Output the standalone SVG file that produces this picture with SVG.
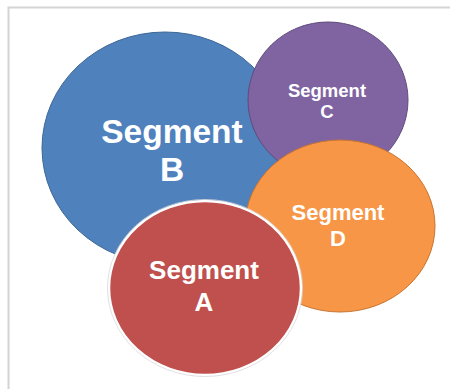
<svg xmlns="http://www.w3.org/2000/svg" width="450" height="389" viewBox="0 0 450 389">
<style>
.lbl{font-family:"Liberation Sans",Arial,sans-serif;font-weight:bold;fill:#ffffff;text-anchor:middle}
</style>
<rect width="450" height="389" fill="#ffffff"/>
<path d="M8.5 389 V7.5 H450" fill="none" stroke="#d4d4d4" stroke-width="2"/>
<g id="segB">
<ellipse cx="165" cy="148" rx="123" ry="116" fill="#4f81bd" stroke="#3d6795" stroke-width="1"/>
<text class="lbl" x="172" y="143" font-size="33.5">Segment</text>
<text class="lbl" x="172" y="181" font-size="33.5">B</text>
</g>
<g id="segC">
<ellipse cx="328" cy="100" rx="80" ry="78" fill="#8064a2" stroke="#5f4a7c" stroke-width="1"/>
<text class="lbl" x="327" y="97" font-size="18.5">Segment</text>
<text class="lbl" x="327" y="118" font-size="18.5">C</text>
</g>
<g id="segD">
<ellipse cx="340" cy="226" rx="95" ry="86" fill="#f79646" stroke="#c8742f" stroke-width="1"/>
<text class="lbl" x="338" y="220" font-size="22">Segment</text>
<text class="lbl" x="338" y="246" font-size="22">D</text>
</g>
<g id="segA">
<ellipse cx="205" cy="288" rx="96" ry="87" fill="#c0504d" stroke="#ffffff" stroke-width="2.5"/>
<ellipse cx="205" cy="288" rx="97.5" ry="88.5" fill="none" stroke="#d8d8d8" stroke-width="0.8"/>
<text class="lbl" x="204" y="279" font-size="26">Segment</text>
<text class="lbl" x="204" y="311" font-size="26">A</text>
</g>
</svg>
